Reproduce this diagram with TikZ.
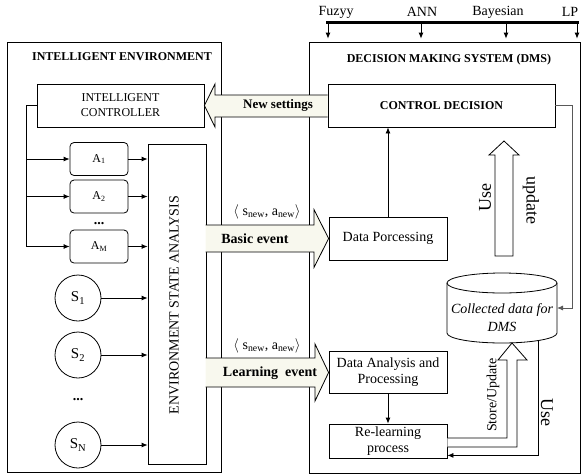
\documentclass[tikz,border=0pt]{standalone}
\usepackage{fontspec}
\setmainfont{Liberation Serif}
\usetikzlibrary{arrows.meta,calc}
\definecolor{cream}{RGB}{248,248,238}
\begin{document}
\begin{tikzpicture}[x=1pt,y=-1pt,
  every node/.style={font=\fontsize{14}{16}\selectfont, inner sep=0pt},
  box/.style={draw, line width=0.8pt, inner sep=0pt},
  ln/.style={line width=0.8pt},
  arr/.style={ln, -{Latex[length=6pt,width=5pt]}},
  ttl/.style={font=\fontsize{12}{14}\selectfont\bfseries},
  abox/.style={box, rounded corners=4pt, minimum width=58pt, minimum height=33pt, font=\fontsize{12}{14}\selectfont},
  sc/.style={draw, circle, line width=0.8pt, minimum size=46pt, font=\fontsize{15}{17}\selectfont},
  bigfill/.style={fill=cream},
  hollow/.style={ln, fill=white},
  biglabel/.style={font=\fontsize{18}{20}\selectfont},
]
\useasboundingbox (0,0) rectangle (581,475);

% outer boxes
\node[box, minimum width=214pt, minimum height=430pt] (env) at (114,257) {};
\node[box, minimum width=271pt, minimum height=431pt] (dms) at (444.5,257.5) {};
\node[ttl] (envt) at (122,57) {INTELLIGENT ENVIRONMENT};
\node[ttl] (dmst) at (449,60) {DECISION MAKING SYSTEM (DMS)};

% top bar
\node (fz) at (336,12) {Fuzyy};
\node (ann) at (422,12) {ANN};
\node (bay) at (498,12) {Bayesian};
\node (lp) at (570,12) {LP};
\coordinate (barl) at (326,22);
\coordinate (barr) at (579,22);
\draw[line width=3pt] (barl) -- (barr);
\coordinate (t1) at (328,22);
\coordinate (t2) at (421,22);
\coordinate (t3) at (506,22);
\coordinate (t4) at (577,22);
\foreach \t in {t1,t2,t3,t4}
  \draw[arr, shorten >=3pt] (\t) -- (\t |- dms.north);

% left side
\node[box, minimum width=167pt, minimum height=43pt, align=center, font=\fontsize{12}{15}\selectfont] (ctrl) at (120.5,105.5) {INTELLIGENT\\CONTROLLER};
\node[abox] (a1) at (99,159) {A\textsubscript{1}};
\node[abox] (a2) at (99,196.5) {A\textsubscript{2}};
\node (adots) at (99,224) {\textbf{...}};
\node[abox] (am) at (99,246.5) {A\textsubscript{M}};
\node[box, minimum width=58pt, minimum height=320pt] (esa) at (177,304) {};
\node[rotate=90] (esat) at (174,305) {ENVIRONMENT STATE ANALYSIS};
\node[sc] (s1) at (78,298) {S\textsubscript{1}};
\node[sc] (s2) at (78,355) {S\textsubscript{2}};
\node (sdots) at (78,400) {\textbf{...}};
\node[sc] (sn) at (78,445) {S\textsubscript{N}};

\coordinate (bus) at (26,105.5);
\coordinate (busb) at (26,246.5);
\draw[ln] (ctrl.west) -- (bus) -- (busb);
\draw[arr] (bus |- a1.west) -- (a1.west);
\draw[arr] (bus |- a2.west) -- (a2.west);
\draw[arr] (busb) -- (am.west);
\foreach \n in {a1,a2,am,s1,s2,sn}
  \draw[arr] (\n.east) -- (\n.east -| esa.west);

% right side
\node[box, minimum width=227pt, minimum height=43pt, ttl] (cd) at (441.5,105.5) {CONTROL DECISION};
\node[box, minimum width=118pt, minimum height=43pt] (dp) at (388,238.5) {Data Porcessing};
\node[box, minimum width=118pt, minimum height=42pt, align=center] (dap) at (388,372.5) {Data Analysis and\\Processing};
\node[box, minimum width=118pt, minimum height=34pt, align=center] (rl) at (388,441) {Re-learning\\process};
\draw[arr] (dp.north) -- (dp.north |- cd.south);
\draw[arr] (dap.south) -- (rl.north);

% cylinder
\draw[ln, fill=white] (447,283) -- (447,333) arc[start angle=180, end angle=360, x radius=55pt, y radius=10pt] -- (557,283);
\draw[ln] (502,283) ellipse [x radius=55pt, y radius=10pt];
\node[font=\fontsize{14}{18}\selectfont\itshape, align=center] (cyl) at (502,318) {Collected data for\\DMS};
\coordinate (cylr) at (557,308);
\coordinate (cylb) at (538,340.6);
\coordinate (cornr) at (572,105.5);
\draw[arr, draw=black!65] (cd.east) -- (cornr) |- (cylr);
\draw[arr] (cylb) |- ($(rl.south east)+(0,-3)$);

% Use / update hollow arrow
\draw[hollow] (495,256) -- (495,155) -- (489,155) -- (504,141) -- (519,155) -- (513,155) -- (513,256) -- cycle;
\node[rotate=90, biglabel] (use1) at (485,197) {Use};
\node[rotate=-90, biglabel] (upd) at (531,200) {update};

% Store/Update hollow arrow
\draw[hollow] (rl.east |- 0,438) -- (507,438) -- (507,360) -- (498,360) -- (512,343) -- (527,360) -- (517,360) -- (517,447) -- (rl.east |- 0,447);
\node[rotate=90] (su) at (493,395) {Store/Update};
\node[rotate=-90, biglabel] (use2) at (547,412) {Use};

% New settings arrow
\fill[cream] (cd.west |- 0,95) -- (215,95) -- (215,84) -- (ctrl.east) -- (215,127) -- (215,117) -- (cd.west |- 0,117) -- cycle;
\draw[ln] (cd.west |- 0,95) -- (215,95) -- (215,84) -- (ctrl.east) -- (215,127) -- (215,117) -- (cd.west |- 0,117);
\node[font=\fontsize{13}{15}\selectfont\bfseries] (ns) at (278,105.5) {New settings};

% Basic event arrow
\fill[cream] (205.5,225) -- (314,225) -- (314,209.5) -- (dp.west) -- (314,267.5) -- (314,252) -- (205.5,252) -- cycle;
\draw[ln] (205.6,225) -- (314,225) -- (314,209.5) -- (dp.west) -- (314,267.5) -- (314,252) -- (205.6,252);
\node (lab1) at (267,212) {$\langle$ s\textsubscript{new}, a\textsubscript{new}$\rangle$};
\node[font=\fontsize{14}{16}\selectfont\bfseries] (be) at (255,238.5) {Basic event};

% Learning event arrow
\fill[cream] (205.5,358) -- (315,358) -- (315,344) -- (dap.west) -- (315,401) -- (315,387) -- (205.5,387) -- cycle;
\draw[ln] (205.6,358) -- (315,358) -- (315,344) -- (dap.west) -- (315,401) -- (315,387) -- (205.6,387);
\node (lab2) at (267,346) {$\langle$ s\textsubscript{new}, a\textsubscript{new}$\rangle$};
\node[font=\fontsize{14}{16}\selectfont\bfseries] (le) at (270,373) {Learning\hspace{0.5em}event};
\end{tikzpicture}
\end{document}
